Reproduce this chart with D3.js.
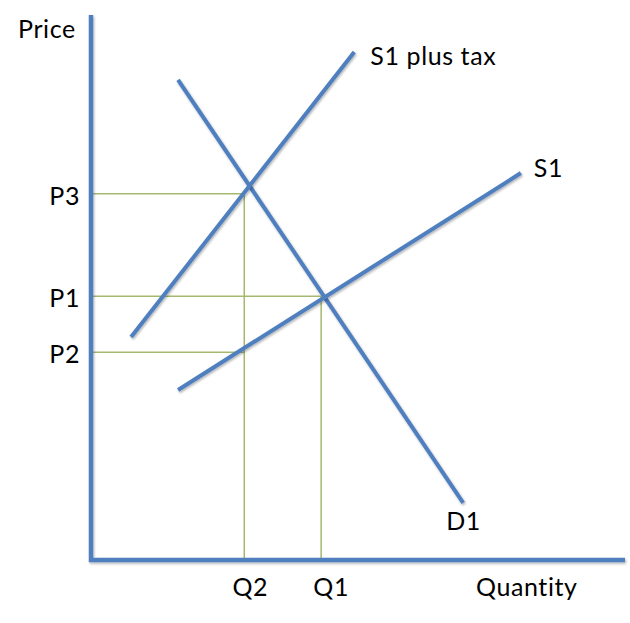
<!DOCTYPE html>
<html>
<head>
<script src="https://d3js.org/d3.v7.min.js"></script>
<style>
 body { margin: 0; background: #fff; }
 text { font-family: Lato, "Open Sans", sans-serif; fill: #000; font-size: 25px; letter-spacing: 0.6px; }
</style>
</head>
<body>
<div id="chart"></div>
<script>

// curves as [quantity, price] end points (0-100 scale)
var demandD1 = [[16.3, 88.1], [69.7, 10.5]];
var supplyS1 = [[16.3, 31.2], [80.5, 71.0]];
var supplyTax = [[7.5, 40.9], [49.3, 93.2]];

// guide levels
var priceNames = ["P3", "P1", "P2"];
var priceLevels = [67.2, 48.4, 38.1];
var priceReach = [28.7, 43.1, 28.7];   // quantity each price line runs to
var qtyNames = ["Q2", "Q1"];
var qtyLevels = [28.7, 43.1];
var qtyReach = [67.2, 48.4];           // price each quantity line runs up to

var width = 630, height = 623;

var svg = d3.select("#chart")
 .append("svg")
  .attr("width", width)
  .attr("height", height);

var x = d3.scaleLinear().domain([0, 100]).range([91, 625]);
var y = d3.scaleLinear().domain([0, 100]).range([560, 15]);

var line = d3.line()
 .x(function(d){ return x(d[0]); })
 .y(function(d){ return y(d[1]); });

//soft shadow like the office drawing
var defs = svg.append("defs");
var f = defs.append("filter").attr("id", "shadow").attr("x", "-10%").attr("y", "-10%").attr("width", "120%").attr("height", "120%");
f.append("feDropShadow").attr("dx", 1).attr("dy", 1.5).attr("stdDeviation", 1).attr("flood-color", "#000").attr("flood-opacity", 0.3);

var green = "#a4b86f";
var blue = "#4f7fbf";

//guide lines
priceLevels.forEach(function(p, i){
  svg.append("line")
   .attr("x1", x(0)).attr("x2", x(priceReach[i]))
   .attr("y1", y(p)).attr("y2", y(p))
   .attr("stroke", green).attr("stroke-width", 1.5);
});
qtyLevels.forEach(function(q, i){
  svg.append("line")
   .attr("x1", x(q)).attr("x2", x(q))
   .attr("y1", y(0)).attr("y2", y(qtyReach[i]))
   .attr("stroke", green).attr("stroke-width", 1.5);
});

//curves
[demandD1, supplyS1, supplyTax].forEach(function(d){
  svg.append("path")
   .datum(d)
   .attr("d", line)
   .attr("fill", "none")
   .attr("stroke", blue)
   .attr("stroke-width", 4)
   .attr("filter", "url(#shadow)");
});

//axes
svg.append("path")
 .attr("d", "M" + x(0) + "," + y(100) + "L" + x(0) + "," + y(0) + "L" + x(100) + "," + y(0))
 .attr("fill", "none")
 .attr("stroke", blue)
 .attr("stroke-width", 4.5)
 .attr("filter", "url(#shadow)");

//labels
svg.append("text").attr("x", 18).attr("y", 38).text("Price");
svg.append("text").attr("x", 476).attr("y", 596).text("Quantity");

priceNames.forEach(function(n, i){
  svg.append("text")
   .attr("x", 80).attr("y", y(priceLevels[i]) + 11)
   .attr("text-anchor", "end")
   .text(n);
});
qtyNames.forEach(function(n, i){
  svg.append("text")
   .attr("x", x(qtyLevels[i]) + (i == 0 ? 6 : 10)).attr("y", 596)
   .attr("text-anchor", "middle")
   .text(n);
});

svg.append("text").attr("x", x(demandD1[1][0]) - 17).attr("y", 530).text("D1");
svg.append("text").attr("x", x(supplyS1[1][0]) + 13).attr("y", 177).text("S1");
svg.append("text").attr("x", x(supplyTax[1][0]) + 16).attr("y", 65).text("S1 plus tax");

</script>
</body>
</html>
